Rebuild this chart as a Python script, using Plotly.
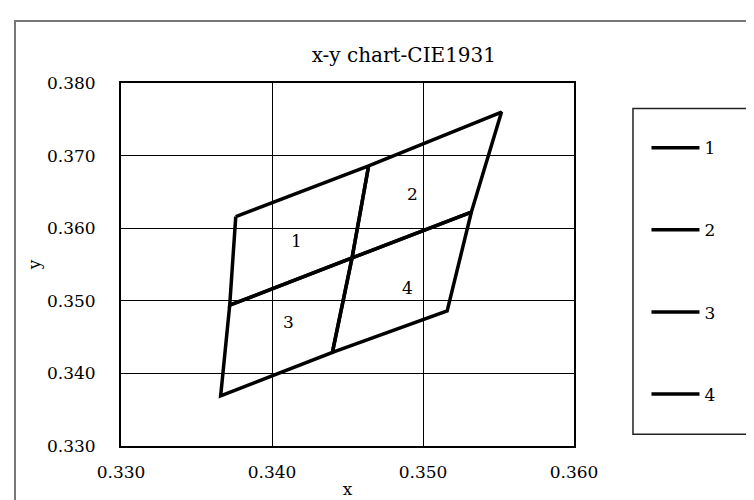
import plotly.graph_objects as go

# chromaticity cells (x, y), closed polygons
cell1_x = [0.3376, 0.3464, 0.3453, 0.3372, 0.3376]
cell1_y = [0.3616, 0.3686, 0.3559, 0.3494, 0.3616]
cell2_x = [0.3464, 0.3552, 0.3532, 0.3453, 0.3464]
cell2_y = [0.3686, 0.3760, 0.3622, 0.3559, 0.3686]
cell3_x = [0.3372, 0.3453, 0.3440, 0.3366, 0.3372]
cell3_y = [0.3494, 0.3559, 0.3429, 0.3369, 0.3494]
cell4_x = [0.3453, 0.3532, 0.3516, 0.3440, 0.3453]
cell4_y = [0.3559, 0.3622, 0.3486, 0.3429, 0.3559]

names = ['1', '2', '3', '4']
label_x = [0.3416, 0.3493, 0.3411, 0.3490]
label_y = [0.3583, 0.3647, 0.3471, 0.3518]

tick_vals_x = [0.330, 0.340, 0.350, 0.360]
tick_vals_y = [0.330, 0.340, 0.350, 0.360, 0.370, 0.380]

FONT = 'DejaVu Serif'

fig = go.Figure()
cells = [(cell1_x, cell1_y), (cell2_x, cell2_y), (cell3_x, cell3_y), (cell4_x, cell4_y)]
for name, (cx, cy) in zip(names, cells):
    fig.add_trace(go.Scatter(x=cx, y=cy, mode='lines', name=name, legendgroup=name,
                             line=dict(color='black', width=3.5)))

for name, lx, ly in zip(names, label_x, label_y):
    fig.add_annotation(x=lx, y=ly, text=name, showarrow=False,
                       font=dict(family=FONT, size=17, color='black'))

fig.update_layout(
    width=754, height=500,
    margin=dict(l=113, r=188, t=75, b=56),
    paper_bgcolor='white', plot_bgcolor='white',
    font=dict(family=FONT, size=17, color='black'),
    title=dict(text='x-y chart-CIE1931', x=0.525, xref='container', xanchor='center',
               y=0.906, yref='container', yanchor='middle', font=dict(size=20)),
    showlegend=True,
    legend=dict(x=1.16, y=0.87, xanchor='left', yanchor='top', traceorder='grouped',
                tracegroupgap=57, itemwidth=48, bgcolor='rgba(0,0,0,0)',
                font=dict(size=17)),
    shapes=[
        dict(type='rect', xref='paper', yref='paper', x0=1.1302, x1=1.3819, y0=0.0325, y1=0.9295,
             line=dict(color='#222', width=1.5)),
        dict(type='rect', xref='paper', yref='paper', x0=-0.234, x1=1.52, y0=-0.21, y1=1.1707,
             line=dict(color='#777', width=2)),
    ],
)

fig.update_xaxes(range=[0.330, 0.360], tickvals=tick_vals_x, tickformat='.3f',
                 showgrid=True, gridcolor='black', gridwidth=1, zeroline=False,
                 showline=True, linecolor='black', linewidth=2, mirror=True,
                 ticks='', ticklabelstandoff=10,
                 title=dict(text='x', standoff=2, font=dict(size=17)))
fig.update_yaxes(range=[0.330, 0.380], tickvals=tick_vals_y, tickformat='.3f',
                 showgrid=True, gridcolor='black', gridwidth=1, zeroline=False,
                 showline=True, linecolor='black', linewidth=2, mirror=True,
                 ticks='', ticklabelstandoff=20,
                 title=dict(text='y', standoff=2, font=dict(size=17)))

fig.write_html('out.html')
